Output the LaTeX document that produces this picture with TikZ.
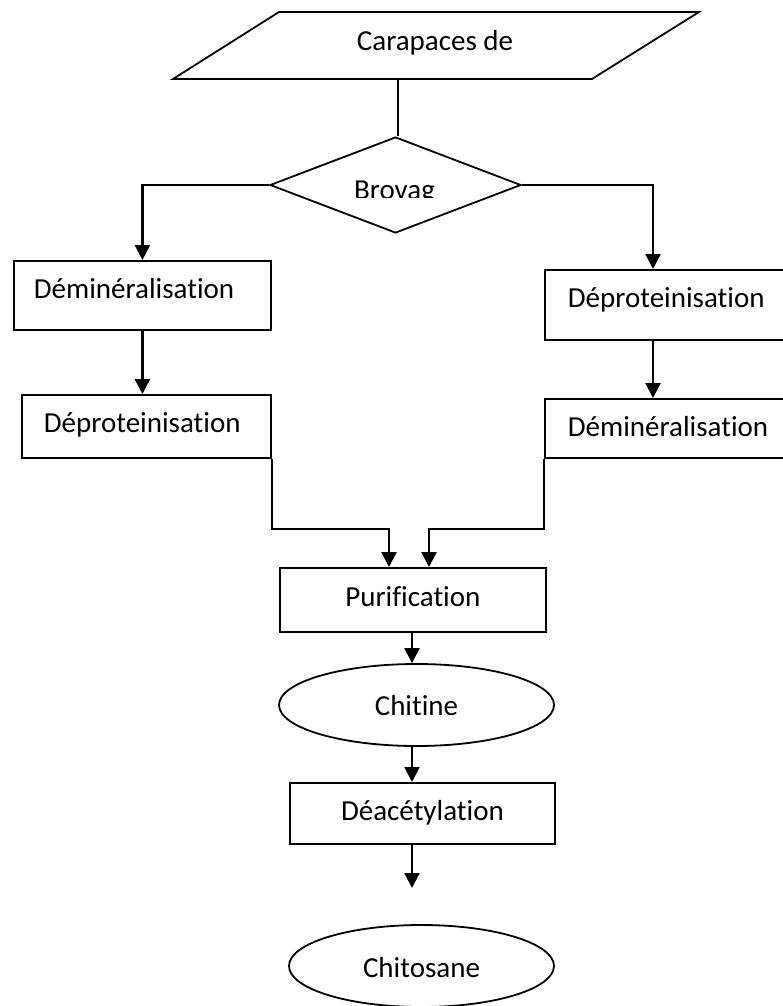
\documentclass[tikz,border=0pt]{standalone}
\usepackage{fontspec}
\setmainfont{Carlito}[Ligatures=NoCommon]
\usetikzlibrary{arrows.meta,shapes.geometric}
\begin{document}
\begin{tikzpicture}[x=1pt,y=-1pt,
  lbl/.style={font=\fontsize{29pt}{35pt}\selectfont},
  boxn/.style={draw, line width=1.8pt, rectangle, inner sep=0pt, anchor=north west, lbl},
  ovaln/.style={draw, line width=1.8pt, ellipse, inner sep=0pt, lbl},
  diam/.style={draw, line width=1.8pt, diamond, inner sep=0pt},
  conn/.style={line width=2.3pt},
  arr/.style={conn, -{Triangle[length=15pt,width=15pt]}}]
\useasboundingbox (0,0) rectangle (783,1006);
\fill[white] (0,0) rectangle (783,1006);
\clip (0,0) rectangle (783,1006);

% top parallelogram
\draw[line width=1.8pt] (279,12) -- (699,12) -- (592,79) -- (173,79) -- cycle;
\node[lbl, anchor=base] (cara) at (435,51) {Carapaces de};
\coordinate (carb) at (398,79);

% diamond
\node[diam, minimum width=251pt, minimum height=96pt] (brov) at (395.5,185) {};
\begin{scope}
  \clip (300,150) rectangle (500,197);
  \node[lbl, anchor=base, inner sep=0pt] (brovt) at (394.5,199) {Brovag};
\end{scope}

% boxes
\node[boxn, minimum width=257pt, minimum height=69pt] (dem1) at (13,260)
  {\makebox[257pt][l]{\hspace{20pt}\raisebox{-3.5pt}[0pt][0pt]{Déminéralisation}}};
\node[boxn, minimum width=249pt, minimum height=63pt] (dep1) at (21,394)
  {\makebox[249pt][l]{\hspace{22pt}\raisebox{-6.5pt}[0pt][0pt]{Déproteinisation}}};
\node[boxn, minimum width=241pt, minimum height=70pt] (dep2) at (544,269)
  {\makebox[241pt][l]{\hspace{23pt}\raisebox{-3pt}[0pt][0pt]{Déproteinisation}}};
\node[boxn, minimum width=241pt, minimum height=59pt] (dem2) at (544,398)
  {\makebox[241pt][l]{\hspace{23pt}\raisebox{-8.5pt}[0pt][0pt]{Déminéralisation}}};
\node[boxn, minimum width=266pt, minimum height=64pt] (pur) at (279,567)
  {\raisebox{-7pt}[0pt][0pt]{Purification}};
\node[ovaln, minimum width=275pt, minimum height=82pt] (chit) at (416.5,705)
  {\raisebox{-10pt}[0pt][0pt]{Chitine}};
\node[boxn, minimum width=265pt, minimum height=61pt] (deac) at (289,782)
  {\raisebox{-7.5pt}[0pt][0pt]{Déacétylation}};
\node[ovaln, minimum width=265pt, minimum height=82pt] (chito) at (421.5,966)
  {\raisebox{-11pt}[0pt][0pt]{Chitosane}};

% helper coordinates
\coordinate (rx) at (653,0);
\coordinate (cx) at (412,0);
\coordinate (mL) at (389,529);
\coordinate (mR) at (429,529);
\coordinate (fe) at (412,888);

% connectors
\draw[conn] (carb) -- (carb |- brov.north);
\draw[arr] (brov.west) -| (dem1.north);
\draw[arr] (brov.east) -| (dep2.north -| rx);
\draw[arr] (dem1.south) -- (dem1.south |- dep1.north);
\draw[arr] (dep2.south -| rx) -- (dem2.north -| rx);
\draw[arr] (dep1.south east) |- (mL) -- (mL |- pur.north);
\draw[arr] (dem2.south west) |- (mR) -- (mR |- pur.north);
\draw[arr] (pur.south -| cx) -- (chit.north -| cx);
\draw[arr] (chit.south -| cx) -- (deac.north -| cx);
\draw[arr] (deac.south -| cx) -- (fe);
\end{tikzpicture}
\end{document}
